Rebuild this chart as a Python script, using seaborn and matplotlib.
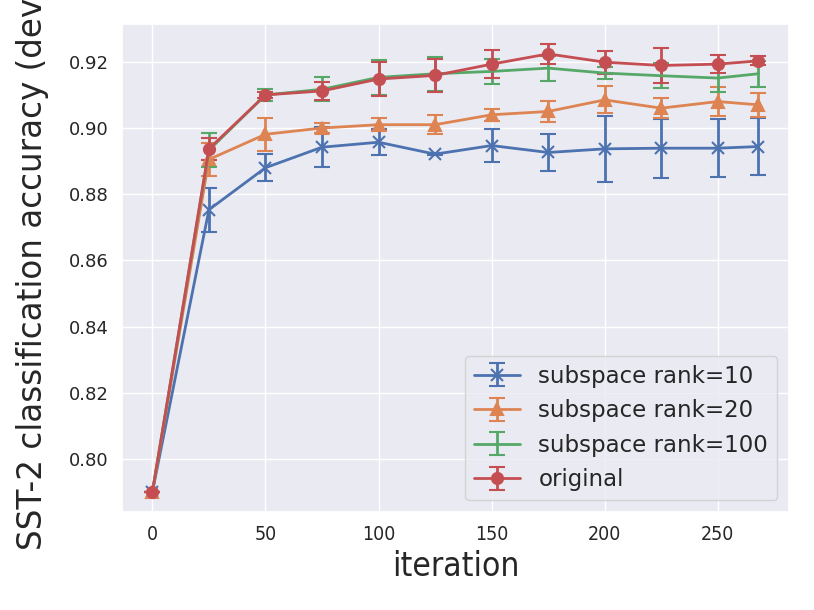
import numpy as np
import seaborn as sns
import matplotlib.pyplot as plt

iterations = [0, 25, 50, 75, 100, 125, 150, 175, 200, 225, 250, 268]

rank10_acc = [0.790, 0.8753, 0.8880, 0.8942, 0.8957, 0.8921, 0.8947, 0.8926, 0.8937, 0.8939, 0.8939, 0.8944]
rank10_err = [0.0, 0.0066, 0.0040, 0.0060, 0.0040, 0.0003, 0.0050, 0.0057, 0.0100, 0.0089, 0.0088, 0.0086]

rank20_acc = [0.790, 0.8905, 0.8981, 0.9000, 0.9010, 0.9010, 0.9040, 0.9050, 0.9085, 0.9060, 0.9080, 0.9070]
rank20_err = [0.0, 0.0050, 0.0049, 0.0015, 0.0019, 0.0028, 0.0018, 0.0032, 0.0041, 0.0030, 0.0044, 0.0036]

rank100_acc = [0.790, 0.8933, 0.9100, 0.9117, 0.9153, 0.9164, 0.9171, 0.9181, 0.9166, 0.9158, 0.9151, 0.9164]
rank100_err = [0.0, 0.0052, 0.0018, 0.0036, 0.0052, 0.0052, 0.0037, 0.0038, 0.0017, 0.0038, 0.0043, 0.0039]

original_acc = [0.790, 0.8937, 0.9100, 0.9112, 0.9148, 0.9159, 0.9193, 0.9224, 0.9199, 0.9189, 0.9193, 0.9203]
original_err = [0.0, 0.0033, 0.0010, 0.0028, 0.0052, 0.0050, 0.0042, 0.0030, 0.0035, 0.0052, 0.0028, 0.0014]

labels = ["subspace rank=10", "subspace rank=20", "subspace rank=100", "original"]

sns.set_theme(style="darkgrid")
colors = sns.color_palette("deep")

fig = plt.figure(figsize=(8.14, 6.10), dpi=100)
ax = fig.add_axes([0.150, 0.161, 0.819, 0.800])

series = [
    (rank10_acc, rank10_err, "x"),
    (rank20_acc, rank20_err, "^"),
    (rank100_acc, rank100_err, None),
    (original_acc, original_err, "o"),
]
for i, (acc, err, mk) in enumerate(series):
    ax.errorbar(iterations, acc, yerr=err, color=colors[i], marker=mk,
                markersize=8, markeredgewidth=1.5, linewidth=2, capsize=6,
                elinewidth=2, capthick=2, label=labels[i])

ax.set_ylim(0.784, 0.9315)
ax.set_yticks([0.80, 0.82, 0.84, 0.86, 0.88, 0.90, 0.92])
ax.set_yticklabels(["%.2f" % v for v in ax.get_yticks()], fontsize=13)
ax.set_xticks([0, 50, 100, 150, 200, 250])
ax.set_xticklabels(["0", "50", "100", "150", "200", "250"], fontsize=14,
                   fontstretch="condensed")
ax.set_xlabel("iteration", fontsize=24, fontstretch="condensed")
# label sits further left in the original, top of it runs off the figure
ax.set_ylabel("SST-2 classification accuracy (dev)", fontsize=23.5, labelpad=14)
ax.legend(loc="lower right", fontsize=16.5)

fig.savefig("out.png", dpi=100)
